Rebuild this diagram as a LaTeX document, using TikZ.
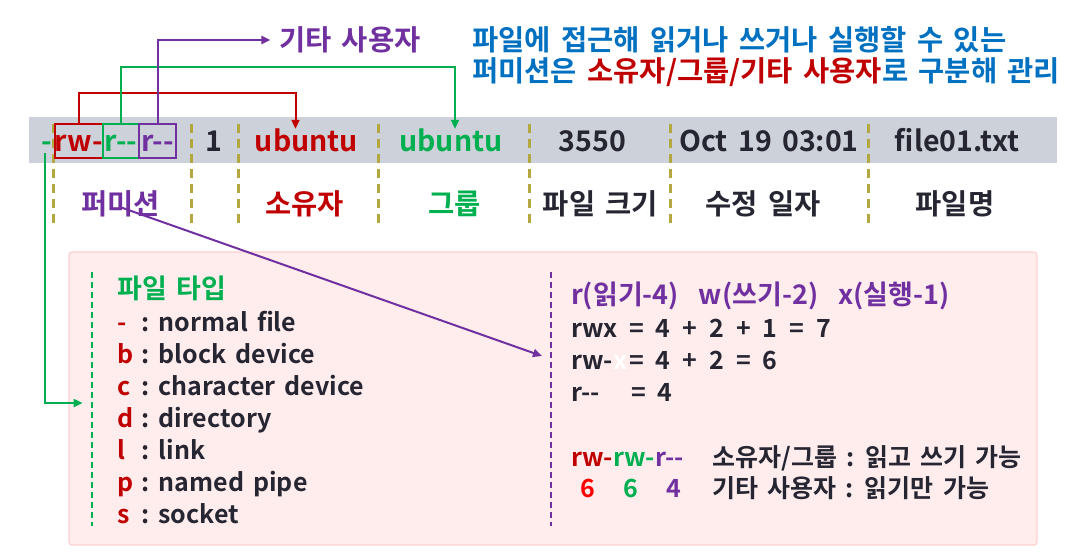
\documentclass[tikz,border=0pt]{standalone}
\usepackage{fontspec}
\setmainfont{Noto Sans CJK KR}[BoldFont={Noto Sans CJK KR Bold}, WordSpace=1.6]
\usetikzlibrary{arrows.meta,positioning}
\definecolor{ured}{HTML}{C00000}
\definecolor{ugreen}{HTML}{00B050}
\definecolor{upurple}{HTML}{7030A0}
\definecolor{ublue}{HTML}{0070C0}
\definecolor{txt}{HTML}{262633}
\definecolor{band}{HTML}{CDD1D9}
\definecolor{sepcol}{HTML}{B3A83F}
\definecolor{boxfill}{HTML}{FFEDEE}
\definecolor{boxline}{HTML}{FFD0D0}

\begin{document}
\begin{tikzpicture}[x=1pt,y=-1pt,
    every node/.style={inner sep=0pt, text=txt, font=\bfseries\fontsize{28.5}{32}\selectfont},
    cell/.style={text height=22pt, text depth=2pt},
    permbox/.style={cell, draw, line width=2pt, minimum height=34pt},
    small/.style={font=\bfseries\fontsize{25}{29}\selectfont},
    head/.style={font=\bfseries\fontsize{27}{31}\selectfont},
    sepline/.style={sepcol, line width=3pt, dash pattern=on 9pt off 6pt},
    split/.style={line width=1.8pt, dash pattern=on 6pt off 4pt},
    link/.style={line width=2pt, -{Triangle[length=9pt,width=8pt]}}]
    \useasboundingbox (0,0) rectangle (1075,555);
    % ls -l row and detail box
    \fill[band] (29,117) rectangle (1057,163);
    \draw[fill=boxfill, draw=boxline, line width=1.2pt, rounded corners=3pt] (69,252) rectangle (1037,545);
    \foreach \x in {53.4,191.8,238.6,378.8,529.3,670.8,868.9}
        \draw[sepline] (\x,124) -- (\x,226);

    \node[cell, text=ugreen] (ftype) at (46.5,141) {-};
    \node[permbox, draw=ured, text=ured, minimum width=47.7pt] (uperm) at (78.9,141) {rw-};
    \node[permbox, draw=ugreen, text=ugreen, minimum width=36.3pt] (gperm) at (120.9,141) {r-{}-};
    \node[permbox, draw=upurple, text=upurple, minimum width=37pt] (operm) at (157.5,141) {r-{}-};
    \node[cell] (links) at (213.5,141) {1};
    \node[cell, text=ured] (owner) at (306.5,141) {ubuntu};
    \node[cell, text=ugreen] (group) at (451,141) {ubuntu};
    \node[cell] (size) at (592.6,141) {3550};
    \node[cell] (mtime) at (769,141) {Oct 19 03:01};
    \node[cell] (fname) at (957,141) {file01.txt};

    % column names
    \node[cell, text=upurple] (permlbl) at (120.5,204) {퍼미션};
    \node[cell, text=ured] (ownerlbl) at (304.8,204) {소유자};
    \node[cell, text=ugreen] (grouplbl) at (454.5,204) {그룹};
    \node[cell] (sizelbl) at (600.4,204) {파일 크기};
    \node[cell] (mtimelbl) at (763,204) {수정 일자};
    \node[cell] (fnamelbl) at (955,204) {파일명};

    % notes on top
    \node[text=upurple, anchor=west] (othlbl) at (279,40) {기타 사용자};
    \node[text=ublue, anchor=west] (note1) at (472,40) {파일에 접근해 읽거나 쓰거나 실행할 수 있는};
    \node[text=ublue, anchor=west] (note2) at (472,72) {퍼미션은 \textcolor{ured}{소유자/그룹/기타 사용자}로 구분해 관리};

    \draw[link, ured] (uperm.north) -- ++(0,-30) -| ([xshift=-11pt]owner.north);
    \draw[link, ugreen] (gperm.north) -- ++(0,-56) -| ([xshift=4pt]group.north);
    \draw[link, upurple] (operm.north) |- ([xshift=-8.6pt]othlbl.west);

    % file types
    \draw[split, ugreen] (92.3,272) -- (92.3,526);
    \node[head, text=ugreen, anchor=base west] (typehead) at (117,298) {파일 타입};
    \foreach \c/\d [count=\i from 0] in {-/normal file, b/block device, c/character device, d/directory, l/link, p/named pipe, s/socket} {
        \node[small, text=ured, anchor=base west] (tc\i) at (117,331+32*\i) {\c};
        \node[small, anchor=base west] (tk\i) at (141.5,331+32*\i) {:};
        \node[small, anchor=base west] (td\i) at (158.4,331+32*\i) {\d};
    }
    \coordinate (typein) at (82.6,403);
    \draw[link, ugreen] ([xshift=-1.7pt]ftype.south) |- (typein);

    % permission values
    \draw[split, upurple] (550.9,272) -- (550.9,526);
    \node[head, text=upurple, anchor=base west] (rwxhead) at (571,304) {r(읽기-4)\hspace{20pt}w(쓰기-2)\hspace{20pt}x(실행-1)};
    \node[small, anchor=base west] (full) at (571,337) {rwx};
    \node[small, anchor=base west] (fullval) at (629,337) {\spaceskip=12pt = 4 + 2 + 1 = 7};
    \node[small, anchor=base west] (rw) at (571,369) {rw-\textcolor{white}{x}};
    \node[small, anchor=base west] (rwval) at (629,369) {\spaceskip=12pt = 4 + 2 = 6};
    \node[small, anchor=base west] (ro) at (571,401) {r-{}-};
    \node[small, anchor=base west] (roval) at (630.8,401) {\spaceskip=12pt = 4};
    \node[small, anchor=base west] (mode) at (571,466) {\textcolor{ured}{rw-}\textcolor{ugreen}{rw-}\textcolor{upurple}{r-{}-}};
    \node[small, text=red, anchor=base] (d1) at (587.4,497) {6};
    \node[small, text=ugreen, anchor=base] (d2) at (630.8,497) {6};
    \node[small, text=upurple, anchor=base] (d3) at (674.2,497) {4};
    \node[small, anchor=base west] (rwnote) at (712.5,466) {소유자/그룹 : 읽고 쓰기 가능};
    \node[small, anchor=base west] (ronote) at (712.5,497) {기타 사용자 : 읽기만 가능};

    \coordinate (permin) at (542,356);
    \draw[link, upurple] ([yshift=9pt]permlbl.south) -- (permin);
\end{tikzpicture}
\end{document}
